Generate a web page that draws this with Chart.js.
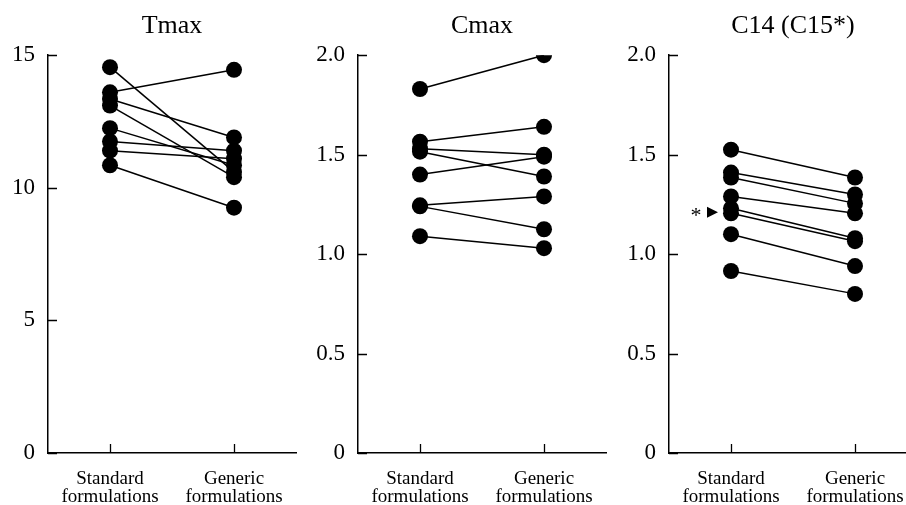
<!DOCTYPE html>
<html lang="en">
<head>
  <meta charset="UTF-8">
  <title>Tmax / Cmax / C14</title>
  <script src="https://cdn.jsdelivr.net/npm/chart.js"></script>
  <style>
    html, body {
      margin: 0;
      padding: 0;
      width: 906px;
      height: 505px;
      overflow: hidden;
      background: #fff;
    }
    .panel {
      position: absolute;
      top: 0;
    }
  </style>
</head>
<body>
  <canvas id="tmaxChart" class="panel" width="304" height="505" style="left:0px"></canvas>
  <canvas id="cmaxChart" class="panel" width="304" height="505" style="left:310px"></canvas>
  <canvas id="c14Chart" class="panel" width="304" height="505" style="left:621px"></canvas>

  <script>
    // categories
    const formulations = [['Standard', 'formulations'], ['Generic', 'formulations']];

    // Tmax, one value per subject
    const tmaxStandard = [14.55, 13.6, 13.35, 13.1, 12.25, 11.75, 11.4, 10.85];
    const tmaxGeneric  = [10.6, 14.45, 11.9, 10.4, 10.85, 11.4, 11.1, 9.25];

    // Cmax
    const cmaxStandard = [1.83, 1.565, 1.53, 1.515, 1.40, 1.245, 1.24, 1.09];
    const cmaxGeneric  = [2.0, 1.64, 1.50, 1.39, 1.49, 1.29, 1.125, 1.03];

    // C14 (C15*)
    const c14Standard = [1.525, 1.41, 1.385, 1.29, 1.23, 1.205, 1.10, 0.915];
    const c14Generic  = [1.385, 1.30, 1.255, 1.205, 1.08, 1.065, 0.94, 0.80];

    const tmaxTicks = [0, 5, 10, 15];
    const ratioTicks = [0, 0.5, 1.0, 1.5, 2.0];

    const FONT = "'Liberation Serif', 'Times New Roman', serif";

    // short tick marks pointing into the plot, like the original
    const innerTicks = {
      id: 'innerTicks',
      afterDraw(chart) {
        const ctx = chart.ctx;
        const xs = chart.scales.x, ys = chart.scales.y;
        const area = chart.chartArea;
        ctx.save();
        ctx.strokeStyle = '#000';
        ctx.lineWidth = 1.3;
        ctx.beginPath();
        ys.ticks.forEach(t => {
          const y = Math.round(ys.getPixelForValue(t.value)) + 0.5;
          ctx.moveTo(area.left, y);
          ctx.lineTo(area.left + 9, y);
        });
        xs.ticks.forEach((t, i) => {
          const x = Math.round(xs.getPixelForTick(i)) + 0.5;
          ctx.moveTo(x, area.bottom);
          ctx.lineTo(x, area.bottom - 9);
        });
        ctx.stroke();
        ctx.restore();
      }
    };

    // asterisk + arrow pointing at the C15 subject
    const c15Marker = {
      id: 'c15Marker',
      afterDraw(chart) {
        const ctx = chart.ctx;
        const y = chart.scales.y.getPixelForValue(1.21);
        const x0 = chart.scales.x.getPixelForValue(0);
        ctx.save();
        ctx.fillStyle = '#000';
        ctx.font = '22px ' + FONT;
        ctx.textAlign = 'center';
        ctx.textBaseline = 'middle';
        ctx.fillText('*', x0 - 35, y + 4);
        ctx.beginPath();
        ctx.moveTo(x0 - 24, y - 5.5);
        ctx.lineTo(x0 - 13, y);
        ctx.lineTo(x0 - 24, y + 5.5);
        ctx.closePath();
        ctx.fill();
        ctx.restore();
      }
    };

    function createPairChart(canvasId, title, standard, generic, yTicks, decimals, extra) {
      const ctx = document.getElementById(canvasId).getContext('2d');
      const datasets = standard.map((v, i) => ({
        data: [v, generic[i]],
        borderColor: '#000',
        backgroundColor: '#000',
        borderWidth: 1.5,
        pointRadius: 8,
        pointBackgroundColor: '#000',
        pointBorderWidth: 0,
        tension: 0
      }));

      return new Chart(ctx, {
        type: 'line',
        data: {
          labels: formulations,
          datasets: datasets
        },
        options: {
          responsive: false,
          animation: false,
          layout: {
            padding: { top: 0, right: 0, bottom: 0, left: 0 }
          },
          plugins: {
            legend: { display: false },
            tooltip: { enabled: false },
            title: {
              display: true,
              text: title,
              color: '#000',
              fullSize: false,
              font: { family: FONT, size: 26, weight: 'normal', lineHeight: 1.2 },
              padding: { top: 11, bottom: 13 }
            }
          },
          scales: {
            x: {
              offset: true,
              border: { display: true, color: '#000', width: 1.5 },
              grid: {
                offset: false,
                drawOnChartArea: false,
                drawTicks: false
              },
              ticks: {
                color: '#000',
                maxRotation: 0,
                autoSkip: false,
                padding: 17,
                font: { family: FONT, size: 19, lineHeight: '18px' }
              },
              afterFit: s => {
                s.height = 52;
                s.paddingLeft = 0;
                s.paddingRight = 0;
              }
            },
            y: {
              min: yTicks[0],
              max: yTicks[yTicks.length - 1],
              border: { display: true, color: '#000', width: 1.5 },
              grid: {
                drawOnChartArea: false,
                drawTicks: false
              },
              afterBuildTicks: s => { s.ticks = yTicks.map(v => ({ value: v })); },
              ticks: {
                color: '#000',
                padding: 13,
                font: { family: FONT, size: 23 },
                callback: v => (v === 0 ? '0' : Number(v).toFixed(decimals))
              },
              afterFit: s => { s.width = 48; }
            }
          }
        },
        plugins: [innerTicks].concat(extra || [])
      });
    }

    createPairChart('tmaxChart', 'Tmax', tmaxStandard, tmaxGeneric, tmaxTicks, 0);
    createPairChart('cmaxChart', 'Cmax', cmaxStandard, cmaxGeneric, ratioTicks, 1);
    createPairChart('c14Chart', 'C14 (C15*)', c14Standard, c14Generic, ratioTicks, 1, [c15Marker]);
  </script>
</body>
</html>
